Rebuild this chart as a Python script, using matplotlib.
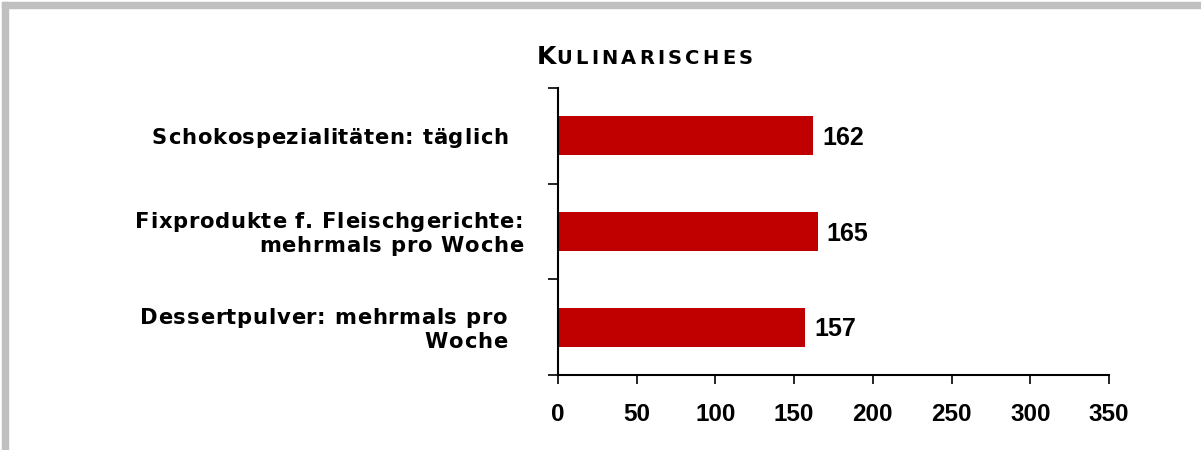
import matplotlib
matplotlib.use('Agg')
import matplotlib.pyplot as plt
from matplotlib.patches import Rectangle
from matplotlib.font_manager import FontProperties, findfont, get_font
from matplotlib.transforms import IdentityTransform

# Daten
categories = ['Schokospezialitäten: täglich',
              'Fixprodukte f. Fleischgerichte:\nmehrmals pro Woche',
              'Dessertpulver: mehrmals pro\nWoche']
values = [162, 165, 157]
xticks = [0, 50, 100, 150, 200, 250, 300, 350]
title_first, title_rest = 'K', 'ULINARISCHES'

plt.rcParams['font.family'] = ['Liberation Sans', 'DejaVu Sans']
plt.rcParams['font.weight'] = 'bold'

W, H = 1201, 450
fig = plt.figure(figsize=(W / 100, H / 100), dpi=100)


def spaced_text(x, y, s, size, track, ha='left', family='DejaVu Sans'):
    '''Text mit Zeichenabstand (Pixel), x/y in Pixel von unten links'''
    prop = FontProperties(family=family, weight='bold', size=size)
    font = get_font(findfont(prop))
    font.set_size(size, fig.dpi)
    adv = [font.load_char(ord(c)).linearHoriAdvance / 65536 for c in s]
    total = sum(adv) + track * (len(s) - 1)
    if ha == 'right':
        x -= total
    for c, a in zip(s, adv):
        fig.text(x, y, c, fontproperties=prop, transform=IdentityTransform(),
                 ha='left', va='baseline')
        x += a + track
    return x


# grauer Rahmen oben und links
fig.patches.append(Rectangle((2 / W, 1 - 8 / H), 1 - 2 / W, 6 / H,
                             transform=fig.transFigure, color='#C0C0C0', zorder=0))
fig.patches.append(Rectangle((2 / W, 0), 6 / W, 1 - 2 / H,
                             transform=fig.transFigure, color='#C0C0C0', zorder=0))

ax = fig.add_axes([558 / W, 75 / H, 551 / W, 287 / H])
pos = list(range(len(categories)))
ax.barh(pos, values, height=0.41, color='#C00000', zorder=2)
for y, v in zip(pos, values):
    ax.annotate(str(v), (v, y), xytext=(9, -9), textcoords='offset pixels',
                ha='left', va='baseline', fontsize=18, fontweight='bold')

ax.set_xlim(0, 350)
ax.set_ylim(len(categories) - 0.5, -0.5)
ax.set_xticks(xticks)
ax.set_xticklabels([str(t) for t in xticks], fontsize=17.5, fontweight='bold')
ax.set_yticks([i - 0.5 for i in range(len(categories) + 1)])
ax.set_yticklabels([])
for s in ['top', 'right']:
    ax.spines[s].set_visible(False)
for s in ['left', 'bottom']:
    ax.spines[s].set_linewidth(1.5)
ax.tick_params(axis='x', direction='out', length=6.5, width=1.2, pad=14)
ax.tick_params(axis='y', direction='out', length=7, width=1.2)

# Kategorien (rechtsbuendig, mit Zeichenabstand)
label_right = [508, 523, 507]
line_h = 23.5
cap = 15.3
for i, lab in enumerate(categories):
    yc = ax.transData.transform((0, i))[1]
    lines = lab.split('\n')
    n = len(lines)
    for k, line in enumerate(lines):
        base = yc - cap / 2 - (k - (n - 1) / 2) * line_h - 1
        spaced_text(label_right[i], base, line, 15.2, 0.7, ha='right')

# Titel in Kapitaelchen
xe = spaced_text(537, H - 64.3, title_first, 18, 0)
spaced_text(xe, H - 64.3, title_rest, 14, 3.2)

fig.savefig('out.png', dpi=100)
